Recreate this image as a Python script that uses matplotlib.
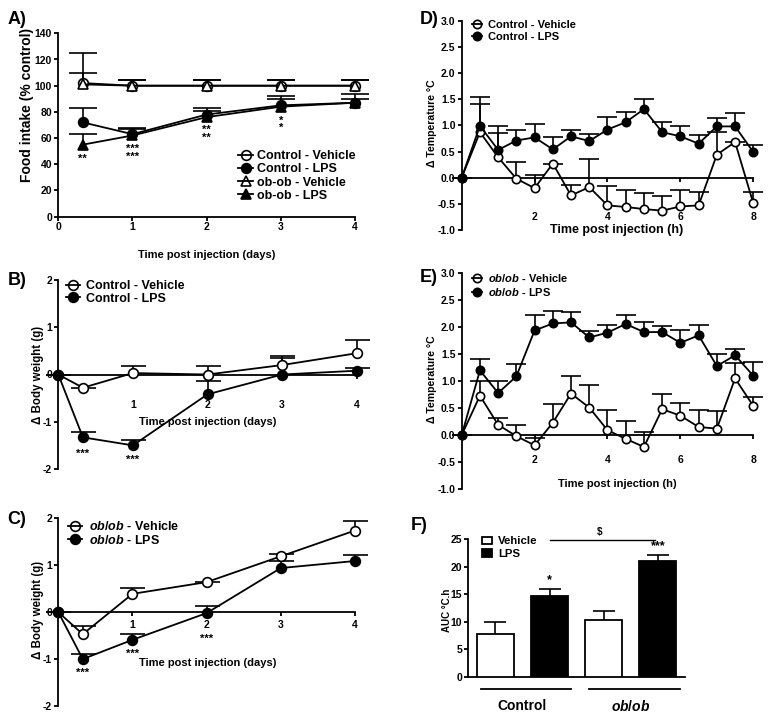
import numpy as np
import matplotlib
matplotlib.use("Agg")
import matplotlib.pyplot as plt
from matplotlib.lines import Line2D

W, H = 771, 722

# ---------------------------------------------------------------- data
# A) food intake (% control)
food_days = [0.33, 1, 2, 3, 4]
food_ctrl_veh = [102, 100, 100, 100, 100]
food_ctrl_veh_err = [8, 4, 4, 4, 4]
food_ctrl_lps = [72, 63, 78, 85, 87]
food_ctrl_lps_err = [11, 5, 5, 7, 7]
food_ob_veh = [101, 100, 100, 100, 100]
food_ob_veh_err = [24, 4, 4, 4, 4]
food_ob_lps = [55, 62, 76, 84, 87]
food_ob_lps_err = [8, 5, 5, 6, 3]
food_star_x = [0.33, 1, 2, 3]
food_star_y = [46, 51, 65.5, 72.7]
food_star_txt = ["**", "***\n***", "**\n**", "*\n*"]

# B) / C) body weight change (g)
bw_days = [0, 0.33, 1, 2, 3, 4]
bw_ctrl_veh = [0, -0.28, 0.03, 0.0, 0.2, 0.45]
bw_ctrl_veh_err = [0, 0, 0.14, 0.19, 0.2, 0.29]
bw_ctrl_lps = [0, -1.33, -1.5, -0.42, 0.0, 0.08]
bw_ctrl_lps_err = [0, 0.11, 0.11, 0.28, 0.35, 0.05]
bw_ctrl_star_x = [0.33, 1]
bw_ctrl_star_y = [-1.62, -1.74]

bw_ob_veh = [0, -0.47, 0.39, 0.64, 1.19, 1.74]
bw_ob_veh_err = [0, 0.17, 0.12, 0.0, 0.04, 0.2]
bw_ob_lps = [0, -1.0, -0.59, -0.02, 0.94, 1.09]
bw_ob_lps_err = [0, 0.11, 0.12, 0.15, 0.14, 0.12]
bw_ob_star_x = [0.33, 1, 2]
bw_ob_star_y = [-1.24, -0.82, -0.52]

# D) / E) temperature change (degC)
temp_h = [0, 0.5, 1, 1.5, 2, 2.5, 3, 3.5, 4, 4.5, 5, 5.5, 6, 6.5, 7, 7.5, 8]
temp_ctrl_veh = [0, 0.87, 0.39, -0.02, -0.20, 0.27, -0.34, -0.18, -0.53,
                 -0.56, -0.60, -0.63, -0.55, -0.53, 0.44, 0.68, -0.49]
temp_ctrl_veh_err = [0, 0.54, 0.46, 0.32, 0.26, 0, 0.20, 0.54, 0.38,
                     0.32, 0.30, 0.28, 0.32, 0.26, 0.43, 0, 0.22]
temp_ctrl_lps = [0, 0.99, 0.53, 0.71, 0.77, 0.54, 0.79, 0.70, 0.92,
                 1.06, 1.31, 0.87, 0.79, 0.65, 0.98, 0.98, 0.49]
temp_ctrl_lps_err = [0, 0.55, 0.46, 0.20, 0.26, 0.24, 0.12, 0.14, 0.24,
                     0.19, 0.19, 0.19, 0.20, 0.17, 0.16, 0.25, 0.14]

temp_ob_veh = [0, 0.73, 0.19, -0.02, -0.19, 0.23, 0.77, 0.51, 0.09,
               -0.07, -0.22, 0.48, 0.36, 0.15, 0.12, 1.05, 0.54]
temp_ob_veh_err = [0, 0.28, 0.12, 0.21, 0.14, 0.35, 0.32, 0.42, 0.37,
                   0.33, 0.28, 0.29, 0.24, 0.31, 0.32, 0.28, 0.17]
temp_ob_lps = [0, 1.20, 0.78, 1.09, 1.94, 2.07, 2.09, 1.81, 1.90,
               2.06, 1.91, 1.91, 1.71, 1.85, 1.28, 1.48, 1.10]
temp_ob_lps_err = [0, 0.21, 0.23, 0.23, 0.29, 0.24, 0.20, 0.12, 0.14,
                   0.16, 0.19, 0.12, 0.23, 0.19, 0.23, 0.12, 0.26]

# F) area under the temperature curve
OBOB = r"$\mathit{ob}$/$\mathit{ob}$"
auc_groups = ["Control", OBOB]
auc_vehicle = [7.7, 10.3]
auc_vehicle_err = [2.2, 1.7]
auc_lps = [14.7, 21.1]
auc_lps_err = [1.3, 1.0]
auc_lps_stars = ["*", "***"]

# ---------------------------------------------------------------- style
plt.rcParams.update({
    "font.family": ["Liberation Sans", "DejaVu Sans"],
    "font.weight": "bold",
    "axes.unicode_minus": False,
    "mathtext.fontset": "custom",
    "mathtext.it": "Liberation Sans:italic:bold",
    "mathtext.rm": "Liberation Sans:bold",
    "axes.linewidth": 1.3,
    "xtick.major.width": 1.3,
    "ytick.major.width": 1.3,
    "xtick.major.size": 3,
    "ytick.major.size": 3,
    "xtick.labelsize": 7.5,
    "ytick.labelsize": 7.5,
})

fig = plt.figure(figsize=(W / 100, H / 100), dpi=100)


def add_ax(left, top, right, bottom):
    return fig.add_axes([left / W, 1 - bottom / H,
                         (right - left) / W, (bottom - top) / H])


def ftext(x, y, s, **kw):
    fig.text(x / W, 1 - y / H, s, **kw)


def style(ax, zero_axis=False, xpad=0.5):
    ax.spines[["top", "right"]].set_visible(False)
    if zero_axis:
        ax.spines["bottom"].set_position(("data", 0))
    ax.tick_params(axis="y", direction="out", pad=1.5)
    ax.tick_params(axis="x", direction="out", pad=xpad)


def series(ax, x, y, err, filled, marker="o", ms=7, cap=9):
    e = ax.errorbar(x, y, yerr=[np.zeros(len(err)), err], fmt="none",
                    ecolor="k", elinewidth=1.2, capsize=cap, capthick=1.2,
                    zorder=2, clip_on=False)
    e[1][0].set_visible(False)  # one-sided (upper) error bars only
    ax.plot(x, y, "-", color="k", lw=1.3, marker=marker, ms=ms, mew=1.2,
            mec="k", mfc="k" if filled else "white", zorder=3, clip_on=False)


def handle(filled, marker="o", ms=7):
    return Line2D([], [], color="k", lw=1.3, marker=marker, ms=ms, mew=1.2,
                  mec="k", mfc="k" if filled else "none")


def legend(ax, handles, labels, left, top, size, hl, pad, spacing):
    ax.legend(handles, labels, loc="upper left",
              bbox_to_anchor=(left / W, 1 - top / H),
              bbox_transform=fig.transFigure, frameon=False, borderpad=0,
              borderaxespad=0, handlelength=hl, handletextpad=pad,
              labelspacing=spacing, prop={"size": size, "weight": "bold"})


def stars(ax, xs, ys, txt, size=8):
    # asterisks sit high in the text box, so nudge them down a little
    for x, y, t in zip(xs, ys, txt):
        ax.annotate(t, (x, y), xytext=(0, -2), textcoords="offset points",
                    ha="center", va="center", fontsize=size,
                    linespacing=0.7, annotation_clip=False)


# ---------------------------------------------------------------- A
axA = add_ax(58.3, 33.3, 355, 216.7)
style(axA)
series(axA, food_days, food_ctrl_veh, food_ctrl_veh_err, False, cap=10)
series(axA, food_days, food_ob_veh, food_ob_veh_err, False, marker="^", cap=10)
series(axA, food_days, food_ctrl_lps, food_ctrl_lps_err, True, cap=10)
series(axA, food_days, food_ob_lps, food_ob_lps_err, True, marker="^", cap=10)
stars(axA, food_star_x, food_star_y, food_star_txt)
axA.set_xlim(0, 4)
axA.set_ylim(0, 140)
axA.set_xticks([0, 1, 2, 3, 4])
axA.set_yticks(range(0, 141, 20))
legend(axA, [handle(False), handle(True), handle(False, "^"), handle(True, "^")],
       ["Control - Vehicle", "Control - LPS", "ob-ob - Vehicle", "ob-ob - LPS"],
       238, 150, 9, 1.2, 0.3, 0.1)
ftext(207, 255, "Time post injection (days)", ha="center", va="center",
      fontsize=8)
ftext(27, 105, "Food intake (% control)", ha="center", va="center",
      rotation=90, fontsize=10)
ftext(17, 19, "A)", ha="center", va="center", fontsize=13)

# ---------------------------------------------------------------- B
axB = add_ax(58.3, 280, 356.7, 469)
style(axB, zero_axis=True, xpad=15)
series(axB, bw_days, bw_ctrl_veh, bw_ctrl_veh_err, False)
series(axB, bw_days, bw_ctrl_lps, bw_ctrl_lps_err, True)
stars(axB, bw_ctrl_star_x, bw_ctrl_star_y, ["***"] * 2)
axB.set_xlim(0, 4)
axB.set_ylim(-2, 2)
axB.set_xticks([1, 2, 3, 4])
axB.set_yticks([-2, -1, 0, 1, 2])
legend(axB, [handle(False), handle(True)],
       ["Control - Vehicle", "Control - LPS"], 66, 280, 9, 1.1, 0.5, 0.05)
ftext(208, 421.7, "Time post injection (days)", ha="center", va="center",
      fontsize=8)
ftext(38, 375, "\u0394 Body weight (g)", ha="center", va="center",
      rotation=90, fontsize=8.3)
ftext(17, 280, "B)", ha="center", va="center", fontsize=13)

# ---------------------------------------------------------------- C
axC = add_ax(58.3, 518.3, 355, 706)
style(axC, zero_axis=True, xpad=3)
series(axC, bw_days, bw_ob_veh, bw_ob_veh_err, False)
series(axC, bw_days, bw_ob_lps, bw_ob_lps_err, True)
stars(axC, bw_ob_star_x, bw_ob_star_y, ["***"] * 3)
axC.set_xlim(0, 4)
axC.set_ylim(-2, 2)
axC.set_xticks([1, 2, 3, 4])
axC.set_yticks([-2, -1, 0, 1, 2])
legend(axC, [handle(False), handle(True)],
       [OBOB + " - Vehicle", OBOB + " - LPS"], 68, 520, 9, 1.1, 0.6, 0.05)
ftext(208, 662.7, "Time post injection (days)", ha="center", va="center",
      fontsize=8)
ftext(38, 610, "\u0394 Body weight (g)", ha="center", va="center",
      rotation=90, fontsize=8.3)
ftext(17, 520, "C)", ha="center", va="center", fontsize=13)

# ---------------------------------------------------------------- D
axD = add_ax(461.7, 20.7, 753.3, 230)
style(axD, zero_axis=True, xpad=22)
series(axD, temp_h, temp_ctrl_veh, temp_ctrl_veh_err, False, ms=6, cap=7)
series(axD, temp_h, temp_ctrl_lps, temp_ctrl_lps_err, True, ms=6, cap=7)
axD.set_xlim(0, 8)
axD.set_ylim(-1, 3)
axD.set_xticks([2, 4, 6, 8])
axD.set_yticks(np.arange(-1, 3.01, 0.5))
axD.yaxis.set_major_formatter("{x:.1f}")
legend(axD, [handle(False, ms=6), handle(True, ms=6)],
       ["Control - Vehicle", "Control - LPS"], 471.5, 20, 8, 0.9, 0.6, 0.17)
ftext(617, 230, "Time post injection (h)", ha="center", va="center",
      fontsize=9)
ftext(431.7, 123, "\u0394 Temperature \u00b0C", ha="center", va="center",
      rotation=90, fontsize=7.6)
ftext(429, 19, "D)", ha="center", va="center", fontsize=13)

# ---------------------------------------------------------------- E
axE = add_ax(461.7, 273.3, 753.3, 489)
style(axE, zero_axis=True, xpad=11)
series(axE, temp_h, temp_ob_veh, temp_ob_veh_err, False, ms=6, cap=7)
series(axE, temp_h, temp_ob_lps, temp_ob_lps_err, True, ms=6, cap=7)
axE.set_xlim(0, 8)
axE.set_ylim(-1, 3)
axE.set_xticks([2, 4, 6, 8])
axE.set_yticks(np.arange(-1, 3.01, 0.5))
axE.yaxis.set_major_formatter("{x:.1f}")
legend(axE, [handle(False, ms=6), handle(True, ms=6)],
       [OBOB + " - Vehicle", OBOB + " - LPS"], 471.5, 272.3, 8, 0.9, 0.6, 0.17)
ftext(617, 484, "Time post injection (h)", ha="center", va="center",
      fontsize=8)
ftext(431.7, 379, "\u0394 Temperature \u00b0C", ha="center", va="center",
      rotation=90, fontsize=7.6)
ftext(429, 278, "E)", ha="center", va="center", fontsize=13)

# ---------------------------------------------------------------- F
axF = add_ax(468.3, 539.3, 685, 676.7)
style(axF)
pos = np.arange(len(auc_groups)) * 2
bw = 0.68
b_veh = axF.bar(pos + 0.5, auc_vehicle, bw, color="white", edgecolor="k",
                lw=1.3, zorder=3)
b_lps = axF.bar(pos + 1.5, auc_lps, bw, color="k", edgecolor="k",
                lw=1.3, zorder=3)
for p, v, e in ((pos + 0.5, auc_vehicle, auc_vehicle_err),
                (pos + 1.5, auc_lps, auc_lps_err)):
    eb = axF.errorbar(p, v, yerr=[np.zeros(len(e)), e], fmt="none",
                      ecolor="k", elinewidth=1.2, capsize=8, capthick=1.2,
                      zorder=2)
    eb[1][0].set_visible(False)
for p, v, e, s in zip(pos + 1.5, auc_lps, auc_lps_err, auc_lps_stars):
    axF.annotate(s, (p, v + e), xytext=(0, 2), textcoords="offset points",
                 ha="center", va="bottom", fontsize=9)
axF.set_xlim(0, 4)
axF.set_ylim(0, 25)
axF.set_yticks(range(0, 26, 5))
axF.tick_params(axis="x", bottom=False, labelbottom=False)
# between-genotype comparison of the LPS response
axF.plot([1.5, 3.45], [24.8, 24.8], color="k", lw=1.0, clip_on=False)
axF.text(2.43, 25.4, r"\$", ha="center", va="bottom", fontsize=7)
for p, g in zip(pos, auc_groups):
    axF.plot([p + 0.23, p + 1.9], [-2.3, -2.3], color="k", lw=1.3,
             clip_on=False)
    axF.text(p + 1.0, -5.4, g, ha="center", va="center", fontsize=10)
axF.legend([b_veh, b_lps], ["Vehicle", "LPS"], loc="upper left",
           bbox_to_anchor=(481.7 / W, 1 - 536.5 / H),
           bbox_transform=fig.transFigure, frameon=False, borderpad=0,
           borderaxespad=0, handlelength=0.88, handleheight=0.6,
           handletextpad=0.55, labelspacing=0.22,
           prop={"size": 8.2, "weight": "bold"})
ftext(447, 610, "AUC \u00b0C.h", ha="center", va="center", rotation=90,
      fontsize=7)
ftext(419, 525, "F)", ha="center", va="center", fontsize=13)

fig.savefig("out.png", dpi=100)
